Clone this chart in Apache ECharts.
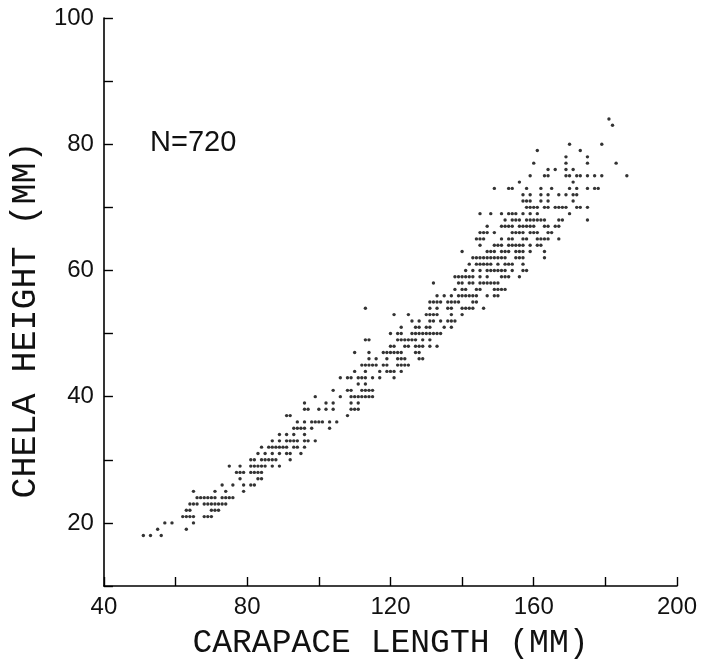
<!DOCTYPE html>
<html>
<head>
<meta charset="utf-8">
<script src="https://cdn.jsdelivr.net/npm/echarts@6/dist/echarts.min.js"></script>
<style>
html,body{margin:0;padding:0;background:#fff;}
#chart{width:709px;height:668px;}
</style>
</head>
<body>
<div id="chart"></div>
<script>
// Chela height rows (mm) and the carapace lengths (mm) observed at each height
const rowHeights = [18,19,20,21,22,23,24,25,26,27,28,29,30,31,32,33,34,35,36,37,38,39,40,41,42,43,44,45,46,47,48,49,50,51,52,53,54,55,56,57,58,59,60,61,62,63,64,65,66,67,68,69,70,71,72,73,74,75,76,77,78,79,80,83,84];
const rowLengths = [
  [51,53,56],
  [55,63],
  [57,59,65],
  [62,63,64,65,68,69,70],
  [63,64,70,71,72],
  [64,65,66,68,69,70,71,72,73,74],
  [66,67,68,69,70,71,73,74,75,76],
  [65,71,74,79],
  [73,76,79,81,82],
  [78,83,84],
  [77,78,79,81,82,83,84],
  [75,78,81,82,83,84,85,87,89],
  [81,82,84,85,86,87,88,92],
  [83,85,87,89,91,92,95],
  [84,86,87,88,89,90,91,93,94,96],
  [87,89,91,92,93,94,96,97,99],
  [89,91,93,96],
  [93,94,95,96,98,103],
  [94,96,98,99,100,101,103,105],
  [91,92,108],
  [96,97,100,102,104,109,110,111],
  [96,102,104,109,111],
  [99,106,109,110,111,112,113,114,115],
  [104,108,109,112,113,114,115],
  [111,113],
  [106,108,109,111,112,113,115,117,121],
  [110,113,117,119,120,121,123],
  [112,113,114,115,116,118,119,122,123,124,125],
  [114,116,119,122,123,124,128,129],
  [110,114,118,119,120,121,122,123,127,128],
  [120,121,124,125,127,128,129,131,133],
  [113,114,122,123,124,125,126,127,129,131],
  [120,122,123,126,127,128,129,130,131,132,133,134],
  [123,127,128,130,131,135,137],
  [126,128,131,132,134,136,137,138],
  [121,125,130,131,132,133,137,140],
  [113,131,133,136,137,140,141,142,143,146],
  [131,132,133,134,136,137,138,139,143,144],
  [133,135,137,139,140,141,142,143,144,147,149,150],
  [138,140,141,144,145,149,150,151,152],
  [132,139,140,142,143,145,146,147,148,149,150],
  [138,139,140,141,142,143,145,147,151,152,153,156],
  [141,143,145,147,148,149,150,151,152,154,157,158],
  [142,144,145,146,147,148,150,152,153,154,157],
  [143,144,145,146,147,148,149,150,151,152,155,156,157,163],
  [140,147,148,149,151,152,153,155,156,157,159,163],
  [145,149,150,151,153,154,155,156,157,159,161,162],
  [144,145,146,151,153,154,157,158,161,162,163,164,167],
  [145,146,147,149,154,155,156,157,159,160,161,164,165],
  [147,151,152,153,154,156,157,158,159,160,163,164,166,167],
  [152,154,155,156,158,159,160,161,162,163,167,168,175],
  [145,148,151,153,154,155,157,159,161,170],
  [158,159,160,161,163,164,166,167,168,169,172,173,175],
  [157,158,159,162,164,171],
  [157,159,162,164,167,169,171,172],
  [149,153,154,158,162,165,170,172,175,177,178],
  [156,171],
  [159,163,164,169,170,172,173,175,177,179,186],
  [164,166,169,171],
  [160,169,175,183],
  [169,175],
  [161,173],
  [170,179],
  [182],
  [181]
];
const xTicks = [40, 80, 120, 160, 200];
const yTicks = [20, 40, 60, 80, 100];
const sampleLabel = 'N=720';

const points = [];
rowHeights.forEach((h, i) => rowLengths[i].forEach(l => points.push([l, h])));

const chart = echarts.init(document.getElementById('chart'));
const labelFont = "'Liberation Sans', Arial, sans-serif";
const nameFont = "'Liberation Mono', 'DejaVu Sans Mono', monospace";
chart.setOption({
  animation: false,
  backgroundColor: '#fff',
  grid: { left: 96, right: 32, top: 18, bottom: 82, containLabel: false },
  xAxis: {
    type: 'value', min: 40, max: 200, interval: 20,
    name: 'CARAPACE LENGTH (MM)', nameLocation: 'middle', nameGap: 41,
    nameTextStyle: { fontFamily: nameFont, fontSize: 33, color: '#111' },
    axisLine: { lineStyle: { color: '#000', width: 1.6 } },
    axisTick: { inside: true, length: 9, lineStyle: { color: '#000', width: 1.4 } },
    axisLabel: { fontFamily: labelFont, fontSize: 24, color: '#111', margin: 9,
      showMinLabel: true, showMaxLabel: true,
      formatter: v => xTicks.includes(v) ? String(v) : '' },
    splitLine: { show: false }
  },
  yAxis: {
    type: 'value', min: 10, max: 100, interval: 10,
    name: 'CHELA HEIGHT (MM)', nameLocation: 'middle', nameGap: 48, nameRotate: 90,
    nameTextStyle: { fontFamily: nameFont, fontSize: 35, color: '#111', padding: [0, 36, 0, 0] },
    axisLine: { lineStyle: { color: '#000', width: 1.6 } },
    axisTick: { inside: true, length: 9, lineStyle: { color: '#000', width: 1.4 } },
    axisLabel: { fontFamily: labelFont, fontSize: 24, color: '#111', margin: 10,
      showMinLabel: true, showMaxLabel: true,
      formatter: v => yTicks.includes(v) ? String(v) : '' },
    splitLine: { show: false }
  },
  graphic: [{
    type: 'text', left: 150, top: 128,
    style: { text: sampleLabel, fontFamily: labelFont, fontSize: 29, fill: '#111' }
  }],
  series: [{
    type: 'scatter', data: points, symbol: 'circle', symbolSize: 3.4,
    itemStyle: { color: '#000' }, silent: true
  }]
});
</script>
</body>
</html>
